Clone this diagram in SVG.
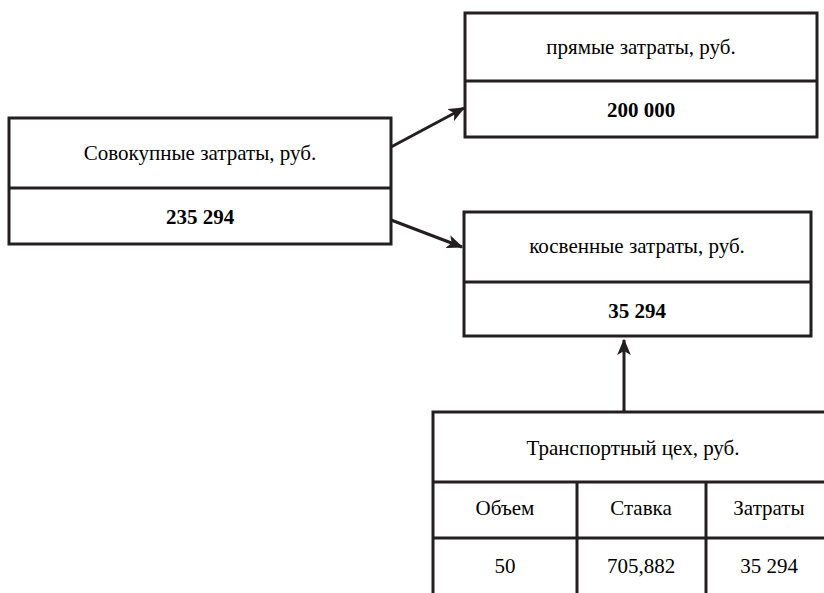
<svg xmlns="http://www.w3.org/2000/svg" width="824" height="593" viewBox="0 0 824 593">
<defs>
<style>
.box{fill:#fff;stroke:#231f20;stroke-width:3}
.ln{stroke:#231f20;stroke-width:3;fill:none}
.t{font-family:"Liberation Serif","Times New Roman",serif;font-size:21px;fill:#000;text-anchor:middle}
.b{font-weight:bold}
.conn{stroke:#231f20;stroke-width:3;fill:none;marker-end:url(#ah)}
</style>
<marker id="ah" viewBox="0 0 12 10" refX="11" refY="5" markerWidth="5.5" markerHeight="4.6" orient="auto" markerUnits="strokeWidth">
<path d="M0,0 L12,5 L0,10 L3,5 Z" fill="#231f20"/>
</marker>
</defs>
<g id="connectors">
<line class="conn" x1="391" y1="147" x2="464" y2="108"/>
<line class="conn" x1="391" y1="220" x2="462" y2="247"/>
<line class="conn" x1="624" y1="412" x2="624" y2="340"/>
</g>
<g id="total">
<rect class="box" x="9" y="118" width="382" height="126"/>
<line class="ln" x1="9" y1="188" x2="391" y2="188"/>
<text class="t" x="200" y="160">Совокупные затраты, руб.</text>
<text class="t b" x="200" y="224">235 294</text>
</g>
<g id="direct">
<rect class="box" x="465" y="13" width="352" height="124"/>
<line class="ln" x1="465" y1="81" x2="817" y2="81"/>
<text class="t" x="641" y="54">прямые затраты, руб.</text>
<text class="t b" x="641" y="117">200 000</text>
</g>
<g id="indirect">
<rect class="box" x="464" y="212" width="347" height="124"/>
<line class="ln" x1="464" y1="282" x2="811" y2="282"/>
<text class="t" x="637" y="253">косвенные затраты, руб.</text>
<text class="t b" x="637" y="318">35 294</text>
</g>
<g id="transport">
<rect class="box" x="433" y="412" width="400" height="200"/>
<line class="ln" x1="433" y1="482" x2="833" y2="482"/>
<line class="ln" x1="433" y1="538" x2="833" y2="538"/>
<line class="ln" x1="577" y1="482" x2="577" y2="612"/>
<line class="ln" x1="706" y1="482" x2="706" y2="612"/>
<text class="t" x="633" y="455">Транспортный цех, руб.</text>
<text class="t" x="505" y="515">Объем</text>
<text class="t" x="641" y="515">Ставка</text>
<text class="t" x="769" y="515">Затраты</text>
<text class="t" x="505" y="573">50</text>
<text class="t" x="641" y="573">705,882</text>
<text class="t" x="769" y="573">35 294</text>
</g>
</svg>
